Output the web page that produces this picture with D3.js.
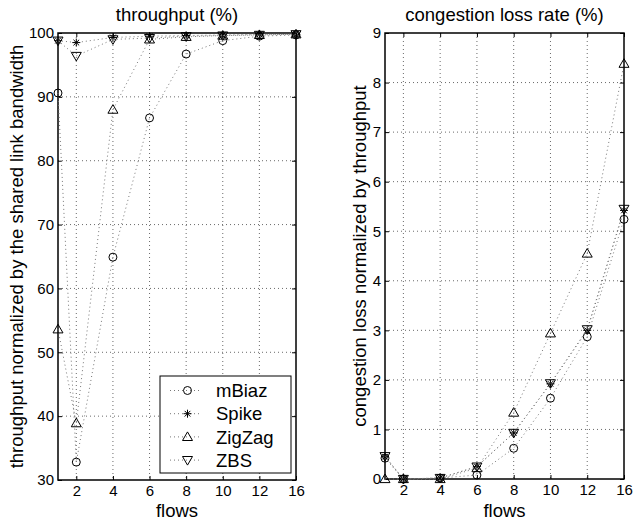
<!DOCTYPE html>
<html>
<head>
<meta charset="utf-8">
<script src="https://cdn.jsdelivr.net/npm/d3@7"></script>
<style>
  body { margin: 0; background: #fff; }
  svg { font-family: "Liberation Sans", Arial, Helvetica, sans-serif; }
</style>
</head>
<body>
<div id="chart"></div>
<script>
// x categories (number of flows)
const flows = [1, 2, 4, 6, 8, 10, 12, 16];
const xTicks = [2, 4, 6, 8, 10, 12, 16];
const seriesNames = ['mBiaz', 'Spike', 'ZigZag', 'ZBS'];

// throughput (%)
const thrMBiaz = [90.6, 32.8, 64.9, 86.7, 96.7, 98.8, 99.5, 99.7];
const thrSpike = [98.8, 98.5, 99.3, 99.5, 99.6, 99.7, 99.8, 99.8];
const thrZigZag = [53.6, 38.9, 88.0, 99.0, 99.4, 99.6, 99.7, 99.8];
const thrZBS = [98.8, 96.4, 99.0, 99.2, 99.5, 99.6, 99.7, 99.8];
const thrTicks = [30, 40, 50, 60, 70, 80, 90, 100];

// congestion loss rate (%)
const lossMBiaz = [0.42, 0.0, 0.02, 0.08, 0.62, 1.63, 2.87, 5.24];
const lossSpike = [0.45, 0.0, 0.02, 0.25, 0.93, 1.92, 3.0, 5.42];
const lossZigZag = [0.0, 0.0, 0.0, 0.22, 1.34, 2.94, 4.55, 8.38];
const lossZBS = [0.46, 0.0, 0.02, 0.25, 0.93, 1.93, 3.02, 5.45];
const lossTicks = [0, 1, 2, 3, 4, 5, 6, 7, 8, 9];

const W = 633, H = 522;
const svg = d3.select('#chart').append('svg')
  .attr('width', W).attr('height', H);

const lineGray = '#777';

// marker shapes
function markerPath(i) {
  if (i === 0) return d3.symbol(d3.symbolCircle, 50)();
  if (i === 1) {
    const r = 4, s = r * 0.71;
    return 'M0,' + (-r) + 'V' + r + 'M' + (-r) + ',0H' + r +
      'M' + (-s) + ',' + (-s) + 'L' + s + ',' + s +
      'M' + (-s) + ',' + s + 'L' + s + ',' + (-s);
  }
  if (i === 2) return 'M0,-5L5,3.6L-5,3.6Z';
  return 'M0,5L5,-3.6L-5,-3.6Z';
}

function drawPanel(opt) {
  const left = opt.left, right = opt.right, top = opt.top, bottom = opt.bottom;
  const u = (right - left) / 13;
  // 16 sits one tick step after 12
  const x = d3.scaleLinear().domain([1, 12, 16]).range([left, left + 11 * u, right]);
  const y = d3.scaleLinear().domain(opt.yDomain).range([bottom, top]);
  const g = svg.append('g');

  // grid
  g.append('g').selectAll('line').data(xTicks.slice(0, -1)).enter().append('line')
    .attr('x1', d => x(d)).attr('x2', d => x(d))
    .attr('y1', top).attr('y2', bottom)
    .attr('stroke', '#444').attr('stroke-width', 0.8).attr('stroke-dasharray', '1,3');
  g.append('g').selectAll('line').data(opt.yTicks.slice(1, -1)).enter().append('line')
    .attr('y1', d => y(d)).attr('y2', d => y(d))
    .attr('x1', left).attr('x2', right)
    .attr('stroke', '#444').attr('stroke-width', 0.8).attr('stroke-dasharray', '1,3');

  // axes with inward ticks
  const xb = g.append('g').attr('transform', 'translate(0,' + bottom + ')')
    .call(d3.axisBottom(x).tickValues(xTicks).tickSize(-4).tickPadding(5));
  const xt = g.append('g').attr('transform', 'translate(0,' + top + ')')
    .call(d3.axisTop(x).tickValues(xTicks).tickSize(-4).tickFormat(''));
  const yl = g.append('g').attr('transform', 'translate(' + left + ',0)')
    .call(d3.axisLeft(y).tickValues(opt.yTicks).tickSize(-4).tickPadding(4));
  const yr = g.append('g').attr('transform', 'translate(' + right + ',0)')
    .call(d3.axisRight(y).tickValues(opt.yTicks).tickSize(-4).tickFormat(''));
  [xb, xt, yl, yr].forEach(a => {
    a.attr('font-size', null).attr('font-family', null);
    a.select('.domain').remove();
    a.selectAll('line').attr('stroke', '#000');
    a.selectAll('text').style('font-size', '15px').attr('fill', '#000');
  });
  xb.selectAll('text').attr('dy', '0.71em');

  // frame
  g.append('rect').attr('x', left).attr('y', top)
    .attr('width', right - left).attr('height', bottom - top)
    .attr('fill', 'none').attr('stroke', '#000').attr('stroke-width', 1.5);

  // series
  const line = d3.line().x((d, i) => x(flows[i])).y(d => y(d));
  opt.series.forEach((vals, si) => {
    g.append('path').attr('d', line(vals))
      .attr('fill', 'none').attr('stroke', lineGray).attr('stroke-width', 1)
      .attr('stroke-dasharray', '1,3');
    g.append('g').selectAll('path').data(vals).enter().append('path')
      .attr('transform', (d, i) => 'translate(' + x(flows[i]) + ',' + y(d) + ')')
      .attr('d', markerPath(si))
      .attr('fill', 'none').attr('stroke', '#000').attr('stroke-width', 1);
  });

  // titles and labels
  const cx = (left + right) / 2;
  g.append('text').attr('x', cx).attr('y', 21).attr('text-anchor', 'middle')
    .style('font-size', '18.5px').text(opt.title);
  g.append('text').attr('x', cx).attr('y', 517).attr('text-anchor', 'middle')
    .style('font-size', '18.5px').text('flows');
  g.append('text')
    .attr('transform', 'translate(' + opt.ylabelX + ',' + ((top + bottom) / 2) + ') rotate(-90)')
    .attr('text-anchor', 'middle').style('font-size', '18.5px').text(opt.ylabel);

  return {x: x, y: y, g: g};
}

drawPanel({
  left: 58, right: 296, top: 33, bottom: 480,
  yDomain: [30, 100], yTicks: thrTicks,
  series: [thrMBiaz, thrSpike, thrZigZag, thrZBS],
  title: 'throughput (%)',
  ylabel: 'throughput normalized by the shared link bandwidth',
  ylabelX: 23
});

drawPanel({
  left: 385, right: 624, top: 33, bottom: 479,
  yDomain: [0, 9], yTicks: lossTicks,
  series: [lossMBiaz, lossSpike, lossZigZag, lossZBS],
  title: 'congestion loss rate (%)',
  ylabel: 'congestion loss normalized by throughput',
  ylabelX: 366
});

// legend (left panel)
const lg = svg.append('g');
lg.append('rect').attr('x', 160).attr('y', 376).attr('width', 131).attr('height', 97)
  .attr('fill', '#fff').attr('stroke', '#000').attr('stroke-width', 1);
seriesNames.forEach((name, i) => {
  const yy = 390.5 + i * 23.2;
  lg.append('line').attr('x1', 170).attr('x2', 202).attr('y1', yy).attr('y2', yy)
    .attr('stroke', lineGray).attr('stroke-dasharray', '1,3');
  lg.append('path').attr('transform', 'translate(187.5,' + yy + ')')
    .attr('d', markerPath(i)).attr('fill', 'none').attr('stroke', '#000');
  lg.append('text').attr('x', 216).attr('y', yy).attr('dy', '0.36em')
    .style('font-size', '18.5px').text(name);
});
</script>
</body>
</html>
